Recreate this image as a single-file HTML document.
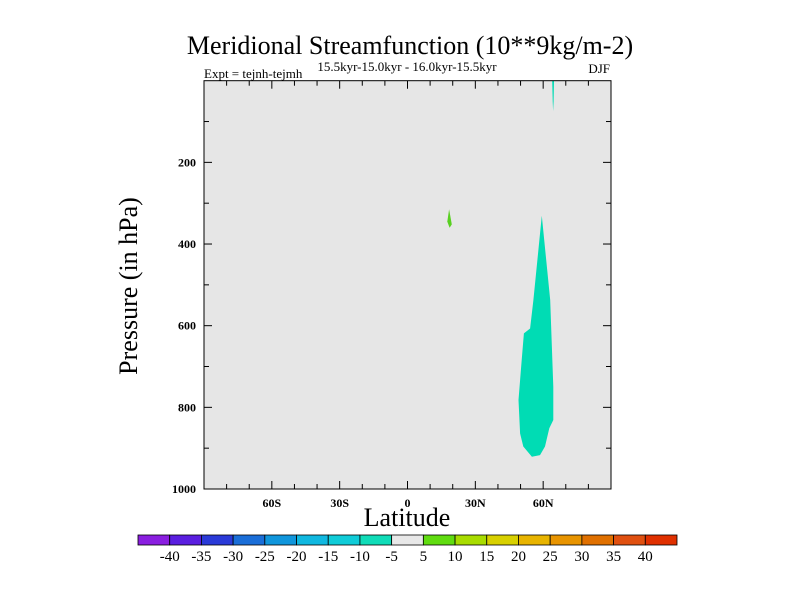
<!DOCTYPE html>
<html><head><meta charset="utf-8"><style>
body{margin:0;background:#fff;}
svg{display:block;font-family:"Liberation Serif",serif;}
</style></head><body>
<svg id="c" width="800" height="600">
<text x="410" y="54" font-size="26" text-anchor="middle">Meridional Streamfunction (10**9kg/m-2)</text>
<text x="204" y="78" font-size="13">Expt = tejnh-tejmh</text>
<text x="407" y="71" font-size="13" text-anchor="middle">15.5kyr-15.0kyr - 16.0kyr-15.5kyr</text>
<text x="610" y="73" font-size="13" text-anchor="end">DJF</text>
<text transform="translate(137,286) rotate(-90)" font-size="26" text-anchor="middle">Pressure (in hPa)</text>
<text x="407" y="526" font-size="26" text-anchor="middle">Latitude</text>
<g id="plot"></g>
<g id="cbar"></g>
</svg>
<script>
const NS="http://www.w3.org/2000/svg";
const xTicks=[-60,-30,0,30,60];
const xTickLabels=["60S","30S","0","30N","60N"];
const yTicks=[200,400,600,800,1000];
const mainBlobLat=[59.4,63.1,64.5,64.5,62.7,60.8,58.6,55.0,51.2,49.8,49.1,50.5,51.5,54.2,55.7];
const mainBlobP=[331,537,750,831,851,896,917,921,896,864,782,684,619,607,537];
const smallBlobLat=[18.4,19.6,18.6,17.6];
const smallBlobP=[315,352,360,345];
const topStreakLat=[64.0,64.8,64.6,64.4,64.2];
const topStreakP=[0,0,50,75,50];
const cbLabels=[-40,-35,-30,-25,-20,-15,-10,-5,5,10,15,20,25,30,35,40];
const cbColors=["#8a1ee0","#5a1ee0","#2a3ad8","#1a6ed8","#1096dc","#10b8e0","#10ccd8","#10dcb8","#e8e8e8","#60dc10","#a8dc00","#d8d000","#e8b400","#e89400","#e07000","#e05010","#e03000"];
const L=204,R=611,T=80.7,B=489;
const xs=lat=>L+(lat+90)/180*(R-L);
const ys=p=>T+p/1000*(B-T);
function mk(t,a,par){const e=document.createElementNS(NS,t);for(const k in a)e.setAttribute(k,a[k]);par.appendChild(e);return e;}
const plot=document.getElementById('plot');
const bg=mk('rect',{x:L,y:T,width:R-L,height:B-T,fill:'#e6e6e6'},plot);


function poly(la,pp,fill,name){
 const pts=la.map((v,i)=>xs(v).toFixed(1)+','+ys(pp[i]).toFixed(1)).join(' ');
 const e=mk('polygon',{points:pts,fill:fill},plot);
 
 
}
poly(mainBlobLat,mainBlobP,'#00dcb4','negative-cell-60n');
poly(smallBlobLat,smallBlobP,'#58d020','positive-cell-20n');
poly(topStreakLat,topStreakP,'#00dcb4','negative-streak-top');
const fr=mk('rect',{x:L,y:T,width:R-L,height:B-T,fill:'none',stroke:'#000','stroke-width':1},plot);


for(let lat=-80;lat<=80;lat+=10){
 const maj=lat%30===0, len=maj?8:5, x=xs(lat);
 mk('line',{x1:x,x2:x,y1:B,y2:B-len,stroke:'#000'},plot);
 mk('line',{x1:x,x2:x,y1:T,y2:T+len,stroke:'#000'},plot);
}
xTicks.forEach((v,i)=>{
 const t=mk('text',{x:xs(v),y:B+18,'font-size':12,'font-weight':'bold','text-anchor':'middle'},plot);
 t.textContent=xTickLabels[i];
 
 
});
for(let p=100;p<1000;p+=100){
 const maj=p%200===0,len=maj?8:5,y=ys(p);
 mk('line',{x1:L,x2:L+len,y1:y,y2:y,stroke:'#000'},plot);
 mk('line',{x1:R,x2:R-len,y1:y,y2:y,stroke:'#000'},plot);
}
yTicks.forEach(v=>{
 const t=mk('text',{x:L-8,y:ys(v)+4,'font-size':12,'font-weight':'bold','text-anchor':'end'},plot);
 t.textContent=v;
 
 
});
const cb=document.getElementById('cbar');
const cx0=138,cw=539/17,cy=535,ch=10;
cbColors.forEach((c,i)=>{
 const r=mk('rect',{x:cx0+i*cw,y:cy,width:cw,height:ch,fill:c,stroke:'#000','stroke-width':0.8},cb);
 
 
});
cbLabels.forEach((v,i)=>{
 const t=mk('text',{x:cx0+(i+1)*cw,y:cy+26,'font-size':15,'text-anchor':'middle'},cb);
 t.textContent=v;
 
 
});
</script>
</body></html>
